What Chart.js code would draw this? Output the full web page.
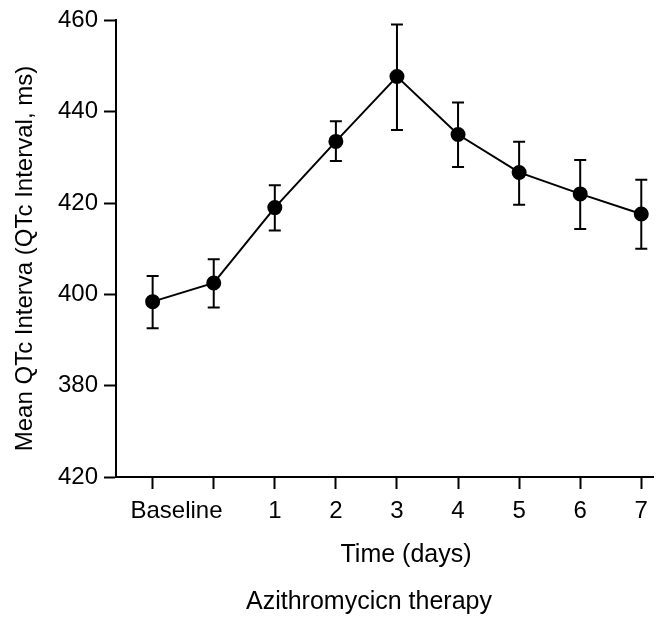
<!DOCTYPE html>
<html>
<head>
<meta charset="utf-8">
<script src="https://cdn.jsdelivr.net/npm/chart.js@4.4.1/dist/chart.umd.min.js"></script>
<style>
  html, body { margin: 0; padding: 0; background: #ffffff; }
  #wrap { width: 662px; height: 617px; }
</style>
</head>
<body>
<div id="wrap"><canvas id="c" width="662" height="617"></canvas></div>
<script>
// ---- data ----
const timePoints = ['Baseline', 'Baseline', '1', '2', '3', '4', '5', '6', '7'];
const meanQTc  = [398.4, 402.5, 419.0, 433.5, 447.7, 435.0, 426.7, 422.0, 417.6];
const upperQTc = [404.0, 407.7, 423.9, 437.9, 459.1, 442.0, 433.4, 429.4, 425.1];
const lowerQTc = [392.6, 397.1, 414.0, 429.2, 436.0, 427.9, 419.6, 414.3, 410.0];
const yTickValues = [360, 380, 400, 420, 440, 460];
const yTickLabels = ['420', '380', '400', '420', '440', '460'];
const yTitle = 'Mean QTc Interva (QTc Interval, ms)';
const xTitle = 'Time (days)';
const xSubTitle = 'Azithromycicn therapy';

// ---- style ----
const FONT = '"Liberation Sans", Arial, Helvetica, sans-serif';
const BASELINE_LABEL_POS = 0.39;

const points = meanQTc.map((v, i) => ({ x: i, y: v }));

const errorBars = {
  id: 'errorBars',
  beforeDatasetsDraw(chart) {
    const { ctx, scales: { x, y } } = chart;
    ctx.save();
    ctx.strokeStyle = '#000';
    ctx.lineWidth = 2;
    const cap = 6;
    meanQTc.forEach((m, i) => {
      const px = x.getPixelForValue(i);
      const pt = y.getPixelForValue(upperQTc[i]);
      const pb = y.getPixelForValue(lowerQTc[i]);
      ctx.beginPath();
      ctx.moveTo(px, pt); ctx.lineTo(px, pb);
      ctx.moveTo(px - cap, pt); ctx.lineTo(px + cap, pt);
      ctx.moveTo(px - cap, pb); ctx.lineTo(px + cap, pb);
      ctx.stroke();
    });
    ctx.restore();
  }
};

const titles = {
  id: 'titles',
  afterDraw(chart) {
    const { ctx } = chart;
    ctx.save();
    ctx.fillStyle = '#000';
    ctx.textAlign = 'center';
    ctx.textBaseline = 'alphabetic';
    ctx.font = '25px ' + FONT;
    ctx.fillText(xTitle, 406, 562);
    ctx.fillText(xSubTitle, 369, 609);
    ctx.font = '24px ' + FONT;
    ctx.translate(32, 258.5);
    ctx.rotate(-Math.PI / 2);
    ctx.fillText(yTitle, 0, 0);
    ctx.restore();
  }
};

const whiteBg = {
  id: 'whiteBg',
  beforeDraw(chart) {
    const { ctx } = chart;
    ctx.save();
    ctx.fillStyle = '#ffffff';
    ctx.fillRect(0, 0, chart.width, chart.height);
    ctx.restore();
  }
};

new Chart(document.getElementById('c'), {
  type: 'line',
  data: {
    datasets: [{
      data: points,
      borderColor: '#000',
      backgroundColor: '#000',
      borderWidth: 2,
      pointRadius: 6.5,
      pointHoverRadius: 6.5,
      pointBackgroundColor: '#000',
      pointBorderColor: '#000',
      tension: 0,
      clip: false
    }]
  },
  options: {
    responsive: false,
    animation: false,
    events: [],
    layout: { padding: { top: 19, right: 1, left: 0, bottom: 0 } },
    plugins: { legend: { display: false }, tooltip: { enabled: false } },
    scales: {
      x: {
        type: 'linear',
        min: -0.6,
        max: 8.2,
        afterBuildTicks(scale) {
          const t = timePoints.map((_, i) => ({ value: i }));
          t.push({ value: BASELINE_LABEL_POS });
          t.sort((a, b) => a.value - b.value);
          scale.ticks = t;
        },
        afterFit(scale) {
          scale.height = 140;
        },
        ticks: {
          autoSkip: false,
          maxRotation: 0,
          minRotation: 0,
          padding: 8,
          color: '#000',
          font: { family: FONT, size: 24 },
          callback(value) {
            if (value === BASELINE_LABEL_POS) return 'Baseline';
            const lbl = timePoints[value];
            return lbl === 'Baseline' ? '' : lbl;
          }
        },
        grid: {
          display: true,
          drawOnChartArea: false,
          drawTicks: true,
          tickLength: 12,
          tickWidth: 2,
          tickColor: (ctx) => (ctx.tick && ctx.tick.value === BASELINE_LABEL_POS) ? 'rgba(0,0,0,0)' : '#000'
        },
        border: { display: true, color: '#000', width: 2 }
      },
      y: {
        type: 'linear',
        min: 360,
        max: 460,
        afterBuildTicks(scale) {
          scale.ticks = yTickValues.map(v => ({ value: v }));
        },
        afterFit(scale) { scale.width = 116; },
        ticks: {
          padding: 6,
          color: '#000',
          font: { family: FONT, size: 24 },
          callback(value, index) { return yTickLabels[index]; }
        },
        grid: {
          display: true,
          drawOnChartArea: false,
          drawTicks: true,
          tickLength: 12,
          tickWidth: 2,
          tickColor: '#000'
        },
        border: { display: true, color: '#000', width: 2 }
      }
    }
  },
  plugins: [whiteBg, errorBars, titles]
});
</script>
</body>
</html>
